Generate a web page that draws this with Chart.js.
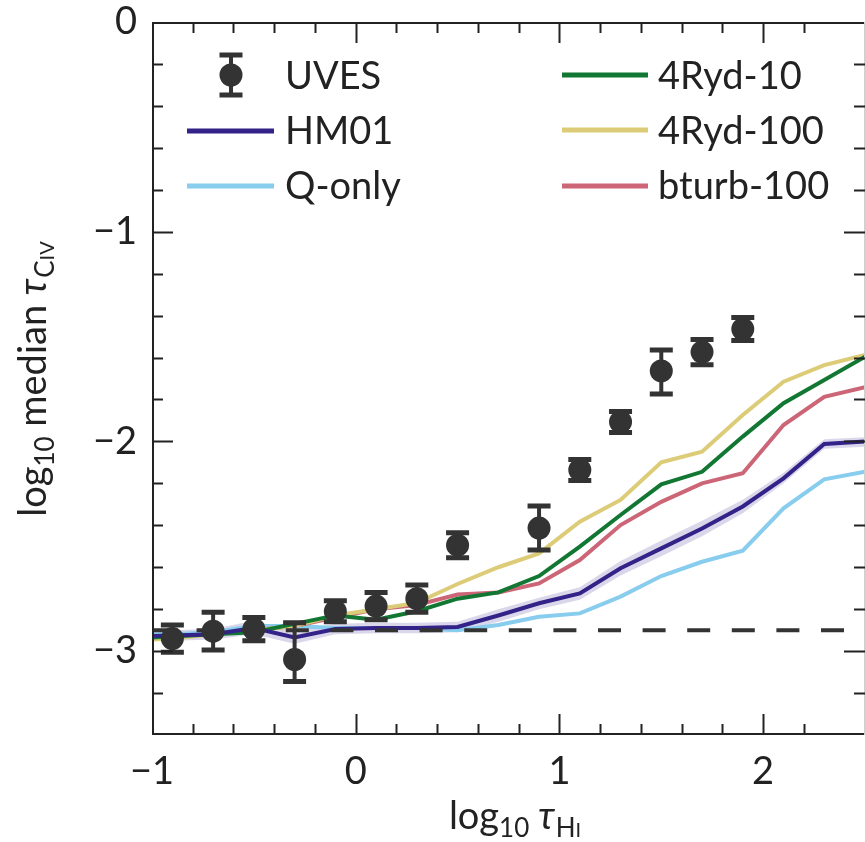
<!DOCTYPE html>
<html><head><meta charset="utf-8">
<script src="https://cdn.jsdelivr.net/npm/chart.js@4/dist/chart.umd.min.js"></script>
<style>html,body{margin:0;padding:0;background:#fff}canvas{display:block}</style>
</head><body>
<canvas id="c" width="865" height="842"></canvas>
<script>
// ---- data ----
const modelX   = [-1.1,-0.9,-0.7,-0.5,-0.3,-0.1,0.1,0.3,0.5,0.7,0.9,1.1,1.3,1.5,1.7,1.9,2.1,2.3,2.5];
const hm01     = [-2.93,-2.925,-2.92,-2.89,-2.935,-2.895,-2.89,-2.89,-2.885,-2.83,-2.772,-2.725,-2.605,-2.51,-2.415,-2.31,-2.176,-2.012,-2.0];
const hm01Hi   = [-2.905,-2.9,-2.895,-2.855,-2.905,-2.87,-2.865,-2.865,-2.86,-2.8,-2.745,-2.695,-2.57,-2.472,-2.378,-2.278,-2.15,-1.99,-1.98];
const hm01Lo   = [-2.955,-2.95,-2.945,-2.92,-2.965,-2.92,-2.915,-2.915,-2.91,-2.86,-2.8,-2.755,-2.64,-2.548,-2.452,-2.342,-2.2,-2.035,-2.025];
const qOnly    = [-2.92,-2.92,-2.91,-2.88,-2.88,-2.89,-2.89,-2.89,-2.9,-2.875,-2.836,-2.82,-2.74,-2.642,-2.574,-2.521,-2.319,-2.181,-2.145];
const ryd10    = [-2.94,-2.93,-2.92,-2.91,-2.87,-2.83,-2.85,-2.81,-2.75,-2.72,-2.642,-2.502,-2.351,-2.205,-2.145,-1.977,-1.818,-1.707,-1.596];
const ryd100   = [-2.95,-2.94,-2.92,-2.9,-2.88,-2.83,-2.8,-2.77,-2.68,-2.6,-2.534,-2.383,-2.279,-2.1,-2.049,-1.874,-1.715,-1.636,-1.588];
const bturb100 = [-2.94,-2.93,-2.92,-2.9,-2.88,-2.84,-2.8,-2.78,-2.73,-2.72,-2.677,-2.566,-2.399,-2.288,-2.2,-2.152,-1.922,-1.787,-1.742];

const uvesX     = [-0.9,-0.7,-0.5,-0.3,-0.1,0.1,0.3,0.5,0.9,1.1,1.3,1.5,1.7,1.9];
const uvesY     = [-2.94,-2.905,-2.895,-3.04,-2.81,-2.785,-2.75,-2.495,-2.413,-2.136,-1.907,-1.664,-1.574,-1.464];
const uvesErrUp = [0.065,0.09,0.055,0.175,0.05,0.065,0.065,0.06,0.105,0.05,0.05,0.1,0.06,0.055];
const uvesErrDn = [0.065,0.09,0.055,0.105,0.05,0.065,0.065,0.06,0.105,0.05,0.05,0.11,0.06,0.055];

const dashX = [-1, 2.5];
const dashY = [-2.9, -2.9];

const xMajorTicks = [-1, 0, 1, 2];
const yMajorTicks = [-3, -2, -1, 0];

const legendLabels = ['UVES','HM01','Q-only','4Ryd-10','4Ryd-100','bturb-100'];

// ---- styles ----
const C = { hm01:'#332288', q:'#88CCEE', r10:'#117733', r100:'#DDCC77', bt:'#CC6677', pt:'#333333', band:'rgba(51,34,136,0.18)', ink:'#222222' };
const FONT = 'Lato';
const FS = 38;

const pts = (xs, ys) => xs.map((x, i) => ({x, y: ys[i]}));
const isMajor = (v, list) => list.some(m => Math.abs(m - v) < 1e-6);
const fmt = v => (v < 0 ? '\u2212' : '') + Math.abs(Math.round(v));

function lineDs(label, data, color, order) {
  return { label, data: pts(modelX, data), borderColor: color, borderWidth: 4, pointRadius: 0, tension: 0, fill: false, order };
}

function drawRich(ctx, segs, x, y, align) {
  let w = 0;
  segs.forEach(s => { ctx.font = s.f; w += ctx.measureText(s.t).width + (s.gap || 0); });
  let cx = align === 'center' ? x - w / 2 : x;
  ctx.textAlign = 'left';
  ctx.textBaseline = 'alphabetic';
  segs.forEach(s => { ctx.font = s.f; ctx.fillText(s.t, cx, y + (s.dy || 0)); cx += ctx.measureText(s.t).width + (s.gap || 0); });
}

const decor = {
  id: 'decor',
  afterDatasetsDraw(chart) {
    const ctx = chart.ctx, xs = chart.scales.x, ys = chart.scales.y;
    ctx.save();
    ctx.strokeStyle = C.pt; ctx.lineWidth = 4; ctx.lineCap = 'butt';
    uvesX.forEach((xv, i) => {
      const px = xs.getPixelForValue(xv);
      const top = ys.getPixelForValue(uvesY[i] + uvesErrUp[i]);
      const bot = ys.getPixelForValue(uvesY[i] - uvesErrDn[i]);
      ctx.beginPath(); ctx.moveTo(px, top); ctx.lineTo(px, bot); ctx.stroke();
      ctx.lineWidth = 5;
      ctx.beginPath(); ctx.moveTo(px - 11.5, top); ctx.lineTo(px + 11.5, top);
      ctx.moveTo(px - 11.5, bot); ctx.lineTo(px + 11.5, bot); ctx.stroke();
      ctx.lineWidth = 4;
    });
    ctx.restore();
  },
  afterDraw(chart) {
    const ctx = chart.ctx, a = chart.chartArea, xs = chart.scales.x, ys = chart.scales.y;
    ctx.save();
    // spines
    ctx.strokeStyle = C.ink; ctx.lineWidth = 2;
    ctx.beginPath();
    ctx.moveTo(a.left + 1, a.top); ctx.lineTo(a.left + 1, a.bottom);
    ctx.moveTo(a.left, a.top + 1); ctx.lineTo(a.right, a.top + 1);
    ctx.moveTo(a.left, a.bottom - 1); ctx.lineTo(a.right, a.bottom - 1);
    ctx.stroke();
    ctx.strokeStyle = '#cfcfcf'; ctx.lineWidth = 1;
    ctx.beginPath(); ctx.moveTo(a.right - 0.5, a.top); ctx.lineTo(a.right - 0.5, a.bottom); ctx.stroke();
    // inward ticks
    ctx.strokeStyle = C.ink; ctx.lineWidth = 2;
    ctx.beginPath();
    xs.ticks.forEach(t => {
      const v = t.value;
      if (Math.abs(v * 5 - Math.round(v * 5)) > 1e-6) return;
      const px = Math.round(xs.getPixelForValue(v)) + 0.5;
      if (px <= a.left + 2 || px >= a.right - 2) return;
      const L = isMajor(v, xMajorTicks) ? 21 : 11;
      ctx.moveTo(px, a.bottom); ctx.lineTo(px, a.bottom - L);
      ctx.moveTo(px, a.top); ctx.lineTo(px, a.top + L);
    });
    ys.ticks.forEach(t => {
      const v = t.value;
      const py = Math.round(ys.getPixelForValue(v)) + 0.5;
      if (py <= a.top + 2 || py >= a.bottom - 2) return;
      const L = isMajor(v, yMajorTicks) ? 21 : 11;
      ctx.moveTo(a.left, py); ctx.lineTo(a.left + L, py);
      ctx.moveTo(a.right, py); ctx.lineTo(a.right - L, py);
    });
    ctx.stroke();

    // axis titles
    ctx.fillStyle = C.ink;
    const big = FS + 'px ' + FONT, sub = '26px ' + FONT, sub2 = '20px ' + FONT, it = 'italic ' + FS + 'px ' + FONT;
    drawRich(ctx, [
      {t:'log', f:big}, {t:'10', f:sub, dy:8, gap:9}, {t:'\u03C4', f:it, gap:1},
      {t:'H', f:sub, dy:8}, {t:'I', f:sub2, dy:8}
    ], 515, 829, 'center');
    ctx.save();
    ctx.translate(46, 379); ctx.rotate(-Math.PI / 2);
    drawRich(ctx, [
      {t:'log', f:big}, {t:'10', f:sub, dy:8}, {t:' median ', f:big}, {t:'\u03C4', f:it, gap:1},
      {t:'C', f:sub, dy:8}, {t:'IV', f:sub2, dy:8}
    ], 0, 0, 'center');
    ctx.restore();

    // legend
    const lf = FS + 'px ' + FONT;
    ctx.font = lf; ctx.textAlign = 'left'; ctx.textBaseline = 'alphabetic'; ctx.fillStyle = C.ink;
    ctx.strokeStyle = C.pt; ctx.fillStyle = C.pt; ctx.lineWidth = 4;
    ctx.beginPath(); ctx.moveTo(231, 54); ctx.lineTo(231, 96); ctx.stroke();
    ctx.lineWidth = 5;
    ctx.beginPath(); ctx.moveTo(219.5, 55); ctx.lineTo(242.5, 55); ctx.moveTo(219.5, 95); ctx.lineTo(242.5, 95); ctx.stroke();
    ctx.beginPath(); ctx.arc(231, 75, 11.5, 0, Math.PI * 2); ctx.fill();
    ctx.fillStyle = C.ink;
    ctx.fillText(legendLabels[0], 285, 89);
    const rows = [
      [187, 274, 131, C.hm01, legendLabels[1], 285, 144],
      [187, 274, 186, C.q, legendLabels[2], 285, 199],
      [562, 648, 75, C.r10, legendLabels[3], 658, 89],
      [562, 648, 130, C.r100, legendLabels[4], 658, 144],
      [562, 648, 186, C.bt, legendLabels[5], 658, 199]
    ];
    rows.forEach(r => {
      ctx.strokeStyle = r[3]; ctx.lineWidth = 5;
      ctx.beginPath(); ctx.moveTo(r[0], r[2]); ctx.lineTo(r[1], r[2]); ctx.stroke();
      ctx.fillStyle = C.ink; ctx.fillText(r[4], r[5], r[6]);
    });
    ctx.restore();
  }
};

function build() {
  new Chart(document.getElementById('c'), {
    type: 'line',
    data: {
      datasets: [
        { label: 'UVES', data: pts(uvesX, uvesY), showLine: false, pointRadius: 11.5, pointHoverRadius: 11.5,
          pointBackgroundColor: C.pt, pointBorderColor: C.pt, pointBorderWidth: 0, order: 0 },
        { label: 'dash', data: pts(dashX, dashY), borderColor: C.pt, borderWidth: 4, borderDash: [23, 21.6],
          pointRadius: 0, fill: false, order: 1 },
        lineDs('HM01', hm01, C.hm01, 2),
        lineDs('4Ryd-10', ryd10, C.r10, 3),
        lineDs('4Ryd-100', ryd100, C.r100, 4),
        lineDs('bturb-100', bturb100, C.bt, 5),
        lineDs('Q-only', qOnly, C.q, 6),
        { label: 'bandLo', data: pts(modelX, hm01Lo), borderWidth: 0, borderColor: 'rgba(0,0,0,0)', pointRadius: 0, fill: false, order: 8 },
        { label: 'bandHi', data: pts(modelX, hm01Hi), borderWidth: 0, borderColor: 'rgba(0,0,0,0)', pointRadius: 0,
          fill: { target: 7 }, backgroundColor: C.band, order: 7 }
      ]
    },
    options: {
      responsive: false, devicePixelRatio: 1, animation: false,
      layout: { autoPadding: false, padding: { top: 22, right: 0, left: 0, bottom: 0 } },
      plugins: { legend: { display: false }, tooltip: { enabled: false } },
      scales: {
        x: {
          type: 'linear', min: -1, max: 2.5,
          grid: { display: false, drawTicks: true, tickLength: 14 }, border: { display: false },
          ticks: { stepSize: 0.2, autoSkip: false, maxRotation: 0, padding: 0, color: C.ink,
                   font: { family: FONT, size: FS },
                   callback: v => isMajor(v, xMajorTicks) ? fmt(v) : '' },
          afterFit: s => { s.height = 107; }
        },
        y: {
          type: 'linear', min: -3.4, max: 0,
          grid: { display: false, drawTicks: true, tickLength: 15 }, border: { display: false },
          ticks: { stepSize: 0.2, autoSkip: false, padding: 0, color: C.ink,
                   font: { family: FONT, size: FS, lineHeight: 1 },
                   callback: v => isMajor(v, yMajorTicks) ? fmt(v) : '' },
          afterFit: s => { s.width = 152; }
        }
      }
    },
    plugins: [decor]
  });
}
const fl = document.fonts ? Promise.all([document.fonts.load('38px Lato'), document.fonts.load('italic 38px Lato')]) : Promise.resolve();
fl.then(build, build);
</script>
</body></html>
